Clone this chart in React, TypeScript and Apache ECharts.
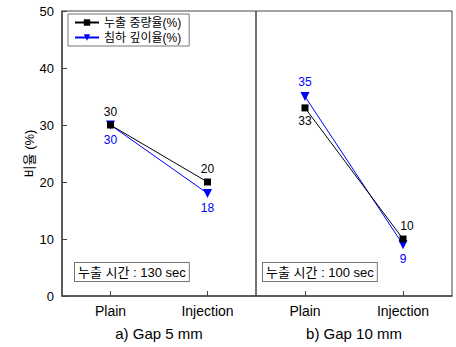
import React, { useEffect, useRef } from "react";
import * as echarts from "echarts";

const categories = ["Plain", "Injection"];
const leakA = [30, 20];
const sinkA = [30, 18];
const leakB = [33, 10];
const sinkB = [35, 9];
const yTicks = { min: 0, max: 50, interval: 10 };
const seriesNames = ["누출 중량율(%)", "침하 깊이율(%)"];
const panelNames = ["a) Gap 5 mm", "b) Gap 10 mm"];
const notes = ["누출 시간 : 130 sec", "누출 시간 : 100 sec"];

const FONT = "'Liberation Sans', Arial, sans-serif";
const KFONT = "'Liberation Sans', 'Noto Sans CJK KR', sans-serif";
const AXIS = "#444";

export default function App() {
  const ref = useRef<HTMLDivElement>(null);
  useEffect(() => {
    if (!ref.current) return;
    const chart = echarts.init(ref.current, undefined, { renderer: "svg" });
    const labelFor = (pos: string, color: string) => ({
      show: true,
      position: pos,
      color,
      fontSize: 12,
      fontFamily: FONT,
      distance: 4,
    });
    const xAxisBase = (idx: number) => ({
      type: "category",
      gridIndex: idx,
      data: categories,
      boundaryGap: true,
      axisLine: { show: true, lineStyle: { color: AXIS, width: 1.5 } },
      axisTick: { show: true, inside: true, alignWithLabel: true, length: 5, lineStyle: { color: AXIS } },
      axisLabel: { color: "#000", fontSize: 14, fontFamily: FONT, margin: 8 },
      name: panelNames[idx],
      nameLocation: "middle",
      nameGap: 30,
      nameTextStyle: { color: "#000", fontSize: 15, fontFamily: FONT },
    });
    const option: any = {
      animation: false,
      grid: [
        { left: 62, width: 194, top: 11, bottom: 51, show: true, borderColor: AXIS, borderWidth: 1 },
        { left: 256, width: 196, top: 11, bottom: 51, show: true, borderColor: AXIS, borderWidth: 1 },
      ],
      xAxis: [xAxisBase(0), xAxisBase(1)],
      yAxis: [
        {
          type: "value",
          gridIndex: 0,
          ...yTicks,
          name: "비율 (%)",
          nameLocation: "middle",
          nameGap: 25,
          nameTextStyle: { color: "#000", fontSize: 13, fontFamily: KFONT },
          axisLine: { show: true, lineStyle: { color: AXIS, width: 1.5 } },
          axisTick: { show: true, inside: true, length: 5, lineStyle: { color: AXIS } },
          axisLabel: { color: "#000", fontSize: 13, fontFamily: FONT, margin: 8 },
          splitLine: { show: false },
        },
        {
          type: "value",
          gridIndex: 1,
          ...yTicks,
          axisLine: { show: false },
          axisTick: { show: false },
          axisLabel: { show: false },
          splitLine: { show: false },
        },
      ],
      legend: {
        orient: "vertical",
        left: 68,
        top: 14,
        padding: [2, 8, 2, 6],
        itemGap: 2,
        itemWidth: 24,
        itemHeight: 8,
        borderColor: "#777",
        borderWidth: 1,
        textStyle: { fontSize: 12, lineHeight: 13, color: "#000", fontFamily: KFONT },
        data: seriesNames,
      },
      series: [
        {
          name: seriesNames[0],
          type: "line",
          xAxisIndex: 0,
          yAxisIndex: 0,
          data: leakA,
          symbol: "rect",
          symbolSize: 7,
          color: "#000",
          lineStyle: { width: 1 },
          label: labelFor("top", "#000"),
          z: 3,
        },
        {
          name: seriesNames[1],
          type: "line",
          xAxisIndex: 0,
          yAxisIndex: 0,
          data: sinkA,
          symbol: "triangle",
          symbolRotate: 180,
          symbolSize: 9,
          color: "#0000ff",
          lineStyle: { width: 1 },
          label: labelFor("bottom", "#0000ff"),
          z: 2,
        },
        {
          name: seriesNames[0],
          type: "line",
          xAxisIndex: 1,
          yAxisIndex: 1,
          data: [
            { value: leakB[0], label: labelFor("bottom", "#000") },
            { value: leakB[1], label: { ...labelFor("top", "#000"), offset: [4, 0] } },
          ],
          symbol: "rect",
          symbolSize: 7,
          color: "#000",
          lineStyle: { width: 1 },
          z: 3,
        },
        {
          name: seriesNames[1],
          type: "line",
          xAxisIndex: 1,
          yAxisIndex: 1,
          data: [
            { value: sinkB[0], label: labelFor("top", "#0000ff") },
            { value: sinkB[1], label: labelFor("bottom", "#0000ff") },
          ],
          symbol: "triangle",
          symbolRotate: 180,
          symbolSize: 9,
          color: "#0000ff",
          lineStyle: { width: 1 },
          z: 2,
        },
      ],
      graphic: [
        {
          type: "text",
          left: 74,
          top: 262,
          style: {
            text: notes[0],
            fontSize: 13,
            fontFamily: KFONT,
            fill: "#000",
            borderColor: "#777",
            borderWidth: 1,
            padding: [3, 3, 2, 3],
            backgroundColor: "#fff",
          },
        },
        {
          type: "text",
          left: 262,
          top: 262,
          style: {
            text: notes[1],
            fontSize: 13,
            fontFamily: KFONT,
            fill: "#000",
            borderColor: "#777",
            borderWidth: 1,
            padding: [3, 3, 2, 3],
            backgroundColor: "#fff",
          },
        },
      ],
    };
    chart.setOption(option);
    return () => chart.dispose();
  }, []);
  return <div ref={ref} style={{ width: 456, height: 347, position: "absolute", left: 0, top: 0 }} />;
}
